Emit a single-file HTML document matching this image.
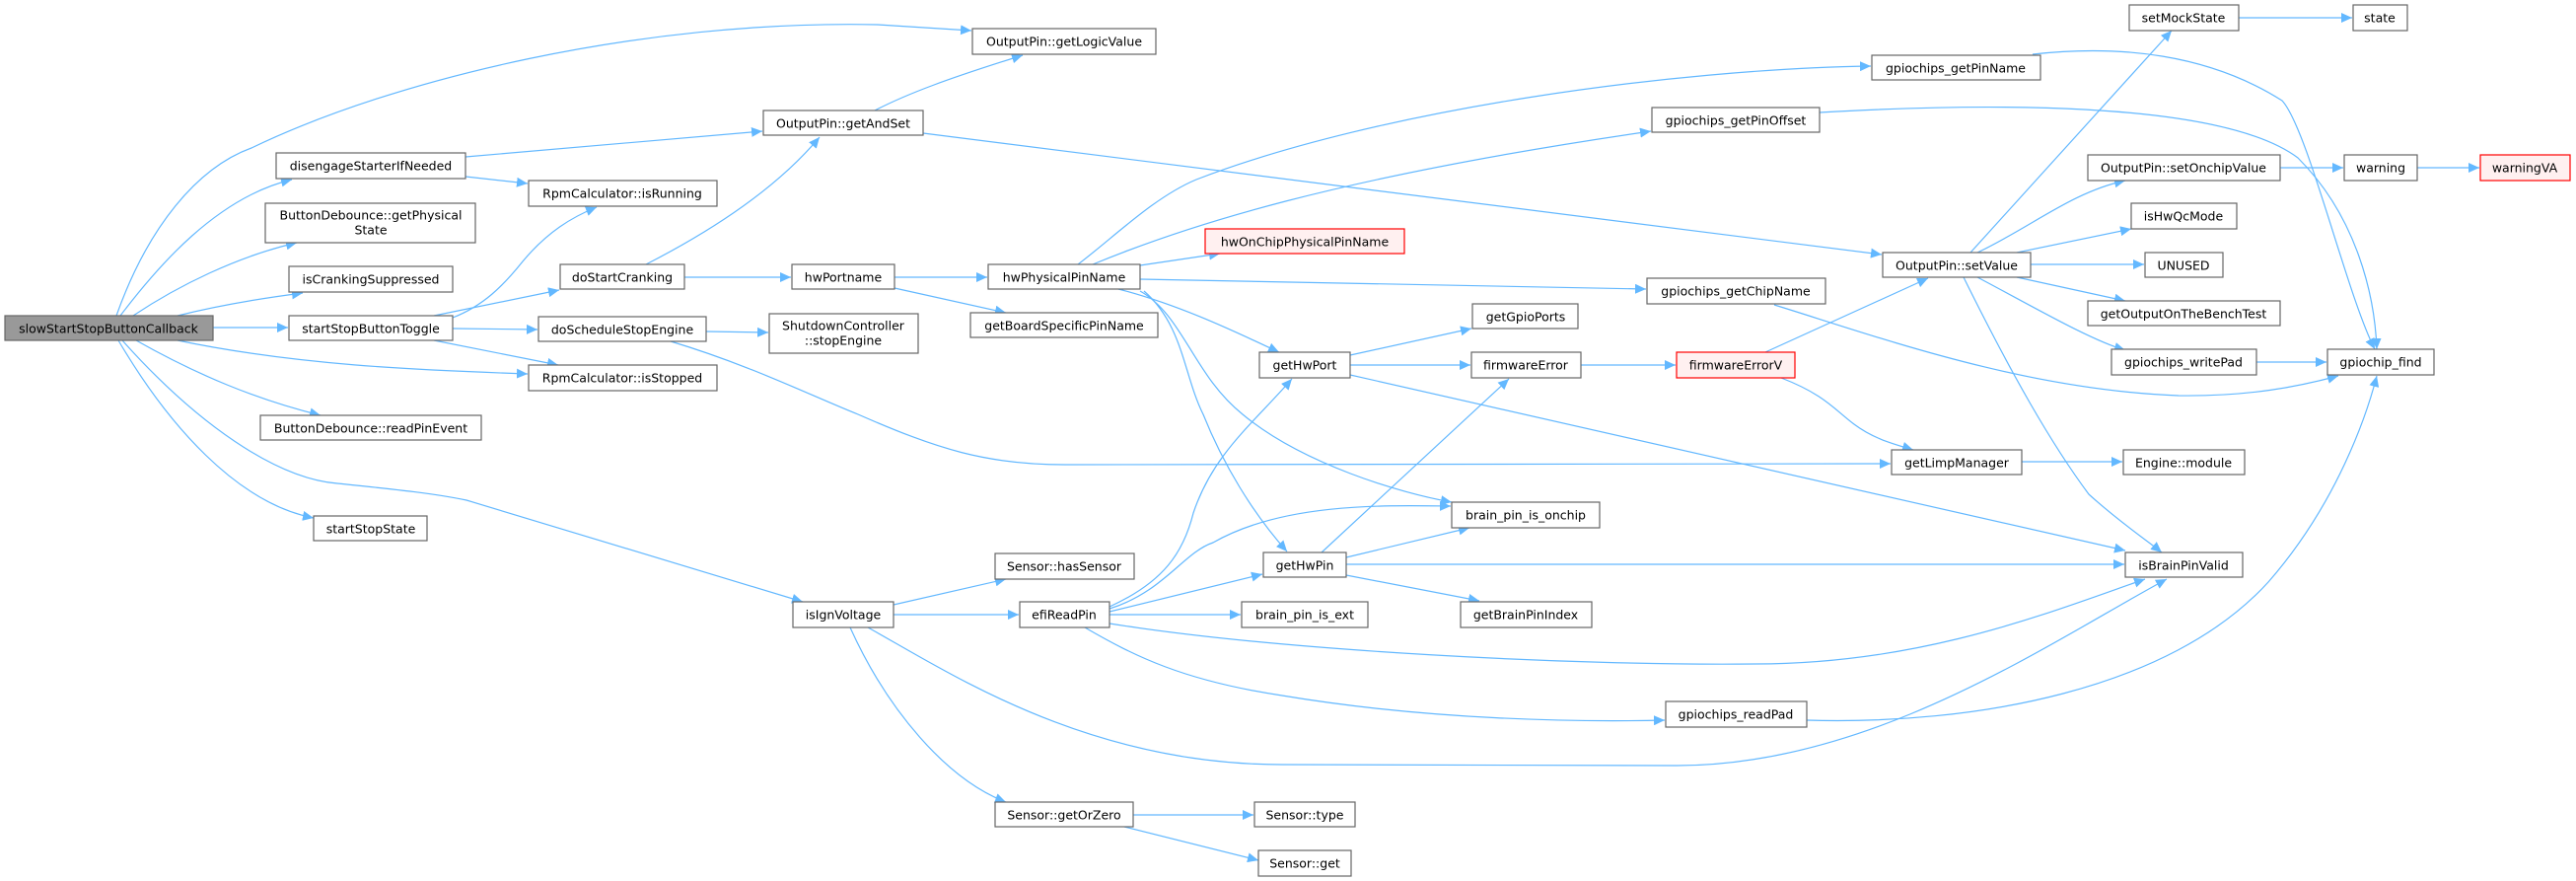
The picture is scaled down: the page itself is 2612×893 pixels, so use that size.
<!DOCTYPE html>
<html><head><meta charset="utf-8"><style>
html,body{margin:0;padding:0;background:#fff;}
svg{display:block;}
text{font-family:"DejaVu Sans","Liberation Sans",sans-serif;font-size:12.5px;fill:#000;text-anchor:middle;dominant-baseline:central;}
.n{fill:#fff;stroke:#666;stroke-width:1.2;}
.r{fill:#999;stroke:#666;stroke-width:1.2;}
.red{fill:#fff0f0;stroke:#f00;stroke-width:1.2;}
path.e{fill:none;stroke:#63b8ff;stroke-width:1.2;}
</style></head><body>
<svg width="2612" height="893" viewBox="0 0 2612 893" xmlns="http://www.w3.org/2000/svg">
<defs><marker id="a" markerUnits="userSpaceOnUse" markerWidth="12" markerHeight="10" refX="11" refY="5" orient="auto"><path d="M0,0 L11,5 L0,10 z" fill="#63b8ff"/></marker></defs>
<g marker-end="url(#a)">
<path class="e" d="M118,320 C150,230 200,170 255,150 C400,80 650,20 890,25 L985,31"/>
<path class="e" d="M122,320 C160,270 220,200 296,182"/>
<path class="e" d="M135,320 C180,290 240,260 301,246"/>
<path class="e" d="M180,320 C220,310 260,303 307,297"/>
<path class="e" d="M216,332 L292,332"/>
<path class="e" d="M180,345 C300,370 420,375 535,379"/>
<path class="e" d="M138,345 C200,380 260,405 325,421"/>
<path class="e" d="M120,345 C170,430 240,510 318,525"/>
<path class="e" d="M124,345 C200,430 280,485 342,490 C400,496 440,500 473,507 L814,610"/>
<path class="e" d="M459,322 C490,310 510,290 530,265 C555,235 580,220 605,210"/>
<path class="e" d="M440,320 L567,294"/>
<path class="e" d="M459,333 L545,334"/>
<path class="e" d="M440,345 L566,370"/>
<path class="e" d="M472,159 L773,133"/>
<path class="e" d="M472,179 L535,186"/>
<path class="e" d="M655,268 C700,245 780,200 831,139"/>
<path class="e" d="M694,281 L802,281"/>
<path class="e" d="M887,112 C920,95 960,80 1037,56"/>
<path class="e" d="M936,135 L1908,258"/>
<path class="e" d="M716,336 L779,337"/>
<path class="e" d="M680,346 C760,370 820,400 870,420 C950,455 1000,471 1080,471 L1917,470"/>
<path class="e" d="M907,281 L1001,281"/>
<path class="e" d="M907,292 L1020,317"/>
<path class="e" d="M1093,268 C1130,240 1170,200 1213,182 C1400,110 1700,70 1897,67"/>
<path class="e" d="M1108,268 C1200,230 1350,180 1674,133"/>
<path class="e" d="M1156,269 L1237,257"/>
<path class="e" d="M1156,283 L1669,293"/>
<path class="e" d="M1134,293 C1200,310 1260,340 1297,357"/>
<path class="e" d="M1156,295 C1200,320 1210,380 1260,420 C1320,470 1420,500 1472,509"/>
<path class="e" d="M1160,295 C1200,330 1200,380 1220,420 C1240,470 1270,520 1305,559"/>
<path class="e" d="M1369,360 L1492,333"/>
<path class="e" d="M1369,370 L1491,370"/>
<path class="e" d="M1369,380 L2155,558"/>
<path class="e" d="M1603,370 L1699,370"/>
<path class="e" d="M1790,357 L1955,282"/>
<path class="e" d="M1806,383 C1850,400 1860,415 1880,430 C1900,445 1920,450 1940,456"/>
<path class="e" d="M1340,560 L1530,384"/>
<path class="e" d="M1365,565 L1490,535"/>
<path class="e" d="M1365,572 L2154,572"/>
<path class="e" d="M1365,583 L1500,609"/>
<path class="e" d="M1125,615 C1180,590 1200,560 1210,520 C1230,460 1270,430 1310,384"/>
<path class="e" d="M1125,617 C1180,600 1200,560 1230,550 C1300,510 1400,512 1471,513"/>
<path class="e" d="M1125,620 L1280,582"/>
<path class="e" d="M1125,623 L1258,623"/>
<path class="e" d="M1125,632 C1300,660 1600,675 1780,673 C1950,673 2080,620 2175,587"/>
<path class="e" d="M1100,636 C1150,665 1200,690 1300,705 C1450,730 1600,732 1688,730"/>
<path class="e" d="M906,613 L1020,587"/>
<path class="e" d="M906,623 L1033,623"/>
<path class="e" d="M880,636 C960,680 1100,775 1300,775 L1700,776 C1900,776 2080,650 2197,587"/>
<path class="e" d="M862,636 C900,720 960,790 1020,813"/>
<path class="e" d="M1149,826 L1271,826"/>
<path class="e" d="M1140,838 L1276,872"/>
<path class="e" d="M2061,55 C2150,45 2240,55 2314,102 C2340,130 2380,300 2408,354"/>
<path class="e" d="M1845,114 C2000,105 2250,100 2330,160 C2390,220 2408,300 2410,354"/>
<path class="e" d="M1799,309 C1900,340 2050,395 2209,401 C2280,402 2330,392 2371,381"/>
<path class="e" d="M1998,256 L2202,31"/>
<path class="e" d="M2005,256 C2060,230 2100,195 2155,183"/>
<path class="e" d="M2045,256 L2161,232"/>
<path class="e" d="M2059,268 L2174,268"/>
<path class="e" d="M2045,281 L2155,305"/>
<path class="e" d="M2005,281 C2060,310 2120,345 2155,355"/>
<path class="e" d="M1991,281 C2040,380 2080,450 2118,501 C2150,530 2180,550 2192,560"/>
<path class="e" d="M2270,18 L2385,18"/>
<path class="e" d="M2312,170 L2376,170"/>
<path class="e" d="M2451,170 L2514,170"/>
<path class="e" d="M2288,367 L2359,367"/>
<path class="e" d="M1832,730 C2000,735 2200,700 2300,590 C2370,510 2400,420 2410,381"/>
<path class="e" d="M2050,468 L2152,468"/>
</g>
<g>
<rect class="r" x="5" y="320" width="211" height="25"/><text x="110" y="333">slowStartStopButtonCallback</text>
<rect class="n" x="280" y="155" width="192" height="26"/><text x="376" y="168">disengageStarterIfNeeded</text>
<rect class="n" x="269" y="206" width="213" height="40"/><text x="376" y="218">ButtonDebounce::getPhysical</text><text x="376" y="233">State</text>
<rect class="n" x="293" y="270" width="166" height="26"/><text x="376" y="283">isCrankingSuppressed</text>
<rect class="n" x="293" y="320" width="166" height="25"/><text x="376" y="333">startStopButtonToggle</text>
<rect class="n" x="264" y="421" width="224" height="25"/><text x="376" y="434">ButtonDebounce::readPinEvent</text>
<rect class="n" x="318" y="523" width="115" height="25"/><text x="376" y="536">startStopState</text>
<rect class="n" x="536" y="183" width="191" height="26"/><text x="631" y="196">RpmCalculator::isRunning</text>
<rect class="n" x="536" y="370" width="191" height="26"/><text x="631" y="383">RpmCalculator::isStopped</text>
<rect class="n" x="568" y="268" width="126" height="25"/><text x="631" y="281">doStartCranking</text>
<rect class="n" x="546" y="321" width="170" height="25"/><text x="631" y="334">doScheduleStopEngine</text>
<rect class="n" x="774" y="112" width="162" height="25"/><text x="855" y="125">OutputPin::getAndSet</text>
<rect class="n" x="803" y="268" width="104" height="25"/><text x="855" y="281">hwPortname</text>
<rect class="n" x="780" y="318" width="151" height="40"/><text x="855" y="330">ShutdownController</text><text x="855" y="345">::stopEngine</text>
<rect class="n" x="804" y="610" width="102" height="26"/><text x="855" y="623">isIgnVoltage</text>
<rect class="n" x="986" y="29" width="186" height="26"/><text x="1079" y="42">OutputPin::getLogicValue</text>
<rect class="n" x="1002" y="268" width="154" height="25"/><text x="1079" y="281">hwPhysicalPinName</text>
<rect class="n" x="984" y="317" width="190" height="25"/><text x="1079" y="330">getBoardSpecificPinName</text>
<rect class="n" x="1009" y="561" width="141" height="26"/><text x="1079" y="574">Sensor::hasSensor</text>
<rect class="n" x="1034" y="610" width="91" height="26"/><text x="1079" y="623">efiReadPin</text>
<rect class="n" x="1009" y="813" width="140" height="25"/><text x="1079" y="826">Sensor::getOrZero</text>
<rect class="red" x="1222" y="232" width="202" height="25"/><text x="1323" y="245">hwOnChipPhysicalPinName</text>
<rect class="n" x="1277" y="357" width="92" height="26"/><text x="1323" y="370">getHwPort</text>
<rect class="n" x="1281" y="560" width="84" height="25"/><text x="1323" y="573">getHwPin</text>
<rect class="n" x="1259" y="610" width="128" height="26"/><text x="1323" y="623">brain_pin_is_ext</text>
<rect class="n" x="1272" y="813" width="102" height="25"/><text x="1323" y="826">Sensor::type</text>
<rect class="n" x="1276" y="862" width="94" height="26"/><text x="1323" y="875">Sensor::get</text>
<rect class="n" x="1493" y="308" width="107" height="25"/><text x="1547" y="321">getGpioPorts</text>
<rect class="n" x="1492" y="357" width="111" height="26"/><text x="1547" y="370">firmwareError</text>
<rect class="n" x="1472" y="509" width="150" height="26"/><text x="1547" y="522">brain_pin_is_onchip</text>
<rect class="n" x="1481" y="610" width="133" height="26"/><text x="1547" y="623">getBrainPinIndex</text>
<rect class="n" x="1675" y="109" width="170" height="25"/><text x="1760" y="122">gpiochips_getPinOffset</text>
<rect class="n" x="1670" y="282" width="181" height="26"/><text x="1760" y="295">gpiochips_getChipName</text>
<rect class="red" x="1700" y="357" width="120" height="26"/><text x="1760" y="370">firmwareErrorV</text>
<rect class="n" x="1689" y="711" width="143" height="26"/><text x="1760" y="724">gpiochips_readPad</text>
<rect class="n" x="1898" y="56" width="171" height="25"/><text x="1983" y="69">gpiochips_getPinName</text>
<rect class="n" x="1909" y="256" width="150" height="25"/><text x="1984" y="269">OutputPin::setValue</text>
<rect class="n" x="1918" y="456" width="132" height="25"/><text x="1984" y="469">getLimpManager</text>
<rect class="n" x="2159" y="5" width="111" height="26"/><text x="2214" y="18">setMockState</text>
<rect class="n" x="2117" y="157" width="195" height="26"/><text x="2214" y="170">OutputPin::setOnchipValue</text>
<rect class="n" x="2161" y="206" width="107" height="26"/><text x="2214" y="219">isHwQcMode</text>
<rect class="n" x="2175" y="256" width="79" height="25"/><text x="2214" y="269">UNUSED</text>
<rect class="n" x="2117" y="305" width="195" height="25"/><text x="2214" y="318">getOutputOnTheBenchTest</text>
<rect class="n" x="2141" y="354" width="147" height="26"/><text x="2214" y="367">gpiochips_writePad</text>
<rect class="n" x="2153" y="456" width="123" height="25"/><text x="2214" y="469">Engine::module</text>
<rect class="n" x="2155" y="560" width="119" height="25"/><text x="2214" y="573">isBrainPinValid</text>
<rect class="n" x="2386" y="5" width="55" height="26"/><text x="2413" y="18">state</text>
<rect class="n" x="2377" y="157" width="74" height="26"/><text x="2414" y="170">warning</text>
<rect class="n" x="2360" y="354" width="108" height="26"/><text x="2414" y="367">gpiochip_find</text>
<rect class="red" x="2515" y="157" width="91" height="26"/><text x="2560" y="170">warningVA</text>
</g>
</svg>
</body></html>
